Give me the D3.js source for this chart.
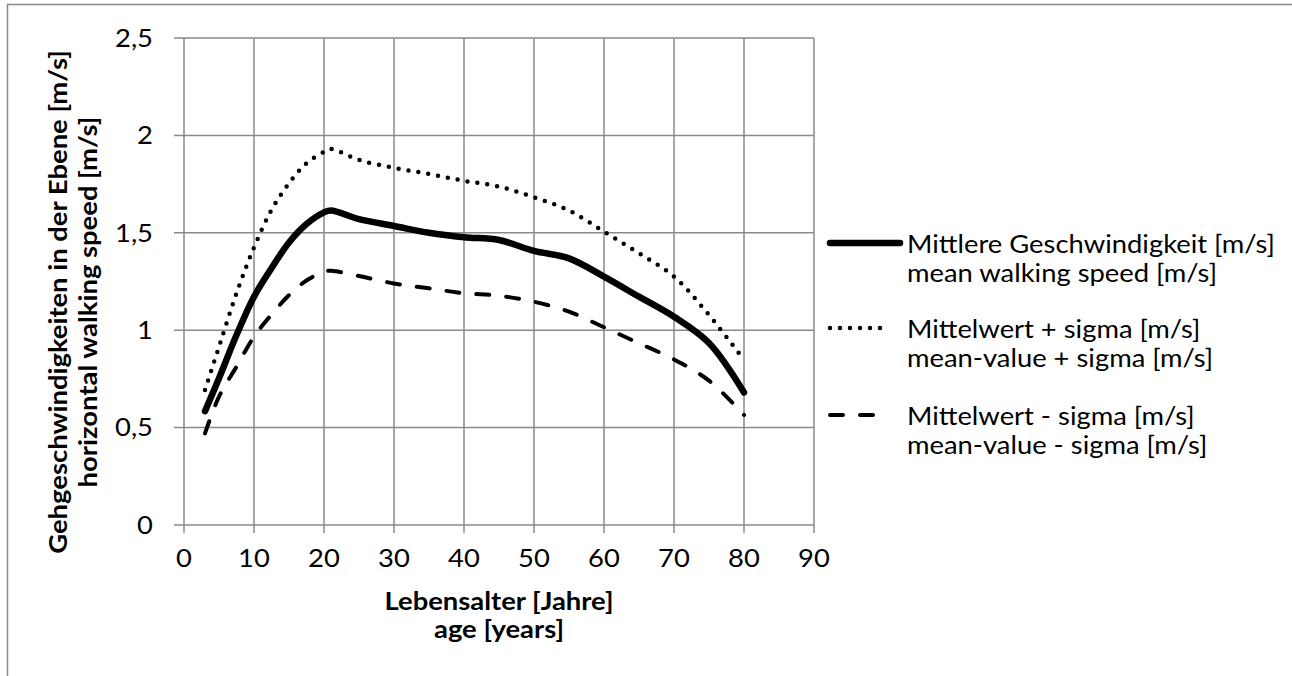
<!DOCTYPE html>
<html><head><meta charset="utf-8">
<script src="https://cdn.jsdelivr.net/npm/d3@7"></script>
<style>
html,body{margin:0;padding:0;background:#fff;}
svg{display:block;font-family:Lato,"Open Sans",sans-serif;}
</style></head>
<body>
<svg id="chart" width="1292" height="676"></svg>
<script>
// ---- data ----
const ages = [3, 5, 7.5, 10, 12.5, 15, 17.5, 20, 21, 25, 30, 35, 40, 45, 50, 55, 60, 65, 70, 75, 80];
const meanSpeed = [0.584, 0.753, 0.975, 1.172, 1.318, 1.45, 1.545, 1.605, 1.615, 1.57, 1.535, 1.50, 1.477, 1.463, 1.407, 1.369, 1.275, 1.172, 1.069, 0.934, 0.68];
const plusSigma = [0.693, 0.915, 1.19, 1.425, 1.617, 1.754, 1.857, 1.916, 1.93, 1.874, 1.834, 1.802, 1.767, 1.737, 1.682, 1.614, 1.506, 1.395, 1.275, 1.078, 0.847];
const minusSigma = [0.47, 0.659, 0.813, 0.967, 1.08, 1.18, 1.255, 1.30, 1.305, 1.278, 1.24, 1.215, 1.19, 1.177, 1.146, 1.095, 1.015, 0.933, 0.85, 0.741, 0.565];
const xTicks = [0, 10, 20, 30, 40, 50, 60, 70, 80, 90];
const yTicks = [0, 0.5, 1, 1.5, 2, 2.5];
const yTickLabels = ["0", "0,5", "1", "1,5", "2", "2,5"];
const seriesNames = [
  ["Mittlere Geschwindigkeit [m/s]", "mean walking speed [m/s]"],
  ["Mittelwert + sigma [m/s]", "mean-value + sigma [m/s]"],
  ["Mittelwert - sigma [m/s]", "mean-value - sigma [m/s]"]
];
const xTitle = ["Lebensalter [Jahre]", "age [years]"];
const yTitle = ["Gehgeschwindigkeiten in der Ebene [m/s]", "horizontal walking speed [m/s]"];

// ---- layout ----
const svg = d3.select("#chart");
const L = 184, R = 814, T = 38, B = 525;
const grid = "#8a8a8a";
const FS = 24.5;
const x = d3.scaleLinear().domain([0, 90]).range([L, R]);
const y = d3.scaleLinear().domain([0, 2.5]).range([B, T]);

// outer border
svg.append("path").attr("d", "M7.5,680 V4.5 H1300").attr("fill", "none")
  .attr("stroke", grid).attr("stroke-width", 1.5);

// width-fit helper
function natural(text, weight) {
  const t = svg.append("text").attr("font-size", FS).attr("font-weight", weight).text(text);
  const w = t.node().getComputedTextLength();
  t.remove();
  return w;
}
const kReg = 368 / natural(seriesNames[0][0], 400);
const kBold = 229 / natural(xTitle[0], 700);
function condense(sel, k) {
  sel.each(function () {
    const w = this.getComputedTextLength();
    d3.select(this).attr("textLength", w * k).attr("lengthAdjust", "spacingAndGlyphs");
  });
}

// gridlines
svg.append("g").selectAll("line").data(yTicks).join("line")
  .attr("x1", L - 10).attr("x2", R).attr("y1", d => y(d)).attr("y2", d => y(d))
  .attr("stroke", grid).attr("stroke-width", 1.5);
svg.append("g").selectAll("line").data(xTicks).join("line")
  .attr("x1", d => x(d)).attr("x2", d => x(d)).attr("y1", T).attr("y2", B + 8)
  .attr("stroke", grid).attr("stroke-width", 1.5);

// tick labels
const yl = svg.append("g").selectAll("text").data(yTicks).join("text")
  .attr("x", 153).attr("y", d => y(d)).attr("dy", "0.36em")
  .attr("text-anchor", "end").attr("font-size", FS).attr("fill", "#000")
  .text((d, i) => yTickLabels[i]);
condense(yl, kReg);
const xl = svg.append("g").selectAll("text").data(xTicks).join("text")
  .attr("x", d => x(d)).attr("y", 558).attr("dy", "0.36em")
  .attr("text-anchor", "middle").attr("font-size", FS).attr("fill", "#000")
  .text(d => d);
condense(xl, kReg);

// axis titles
const xt = svg.append("text").attr("text-anchor", "middle").attr("font-weight", 700)
  .attr("font-size", FS).attr("fill", "#000");
xt.append("tspan").attr("x", (L + R) / 2).attr("y", 610).text(xTitle[0]);
xt.append("tspan").attr("x", (L + R) / 2).attr("y", 638).text(xTitle[1]);
condense(xt.selectAll("tspan"), kBold);
[67, 97].forEach((bx, i) => {
  const t = svg.append("text").attr("transform", `translate(${bx},302) rotate(-90)`)
    .attr("text-anchor", "middle").attr("font-weight", 700).attr("font-size", FS)
    .attr("fill", "#000").text(yTitle[i]);
  condense(t, kBold);
});

// series
const styles = [
  {w: 6.5, dash: null, cap: "round"},
  {w: 4.5, dash: "0,10", cap: "round"},
  {w: 4, dash: "13,17", cap: "round"}
];
const allSeries = [meanSpeed, plusSigma, minusSigma];
const line = d3.line().x(d => x(d[0])).y(d => y(d[1])).curve(d3.curveCatmullRom.alpha(0.5));
allSeries.forEach((vals, i) => {
  const pts = ages.map((a, k) => [a, vals[k]]);
  svg.append("path").datum(pts).attr("d", line).attr("fill", "none")
    .attr("stroke", "#000").attr("stroke-width", styles[i].w)
    .attr("stroke-dasharray", styles[i].dash).attr("stroke-linecap", styles[i].cap)
    .attr("stroke-linejoin", "round");
});

// legend
const legY = [243, 328, 415];
legY.forEach((ly, i) => {
  svg.append("line").attr("x1", 830).attr("x2", i === 1 ? 888 : (i === 2 ? 880 : 900))
    .attr("y1", ly).attr("y2", ly).attr("stroke", "#000").attr("stroke-width", styles[i].w)
    .attr("stroke-dasharray", styles[i].dash).attr("stroke-linecap", styles[i].cap);
  const t = svg.append("text").attr("font-size", FS).attr("fill", "#000");
  t.append("tspan").attr("x", 907).attr("y", ly + 10).text(seriesNames[i][0]);
  t.append("tspan").attr("x", 907).attr("y", ly + 39).text(seriesNames[i][1]);
  condense(t.selectAll("tspan"), kReg);
});
</script>
</body></html>
